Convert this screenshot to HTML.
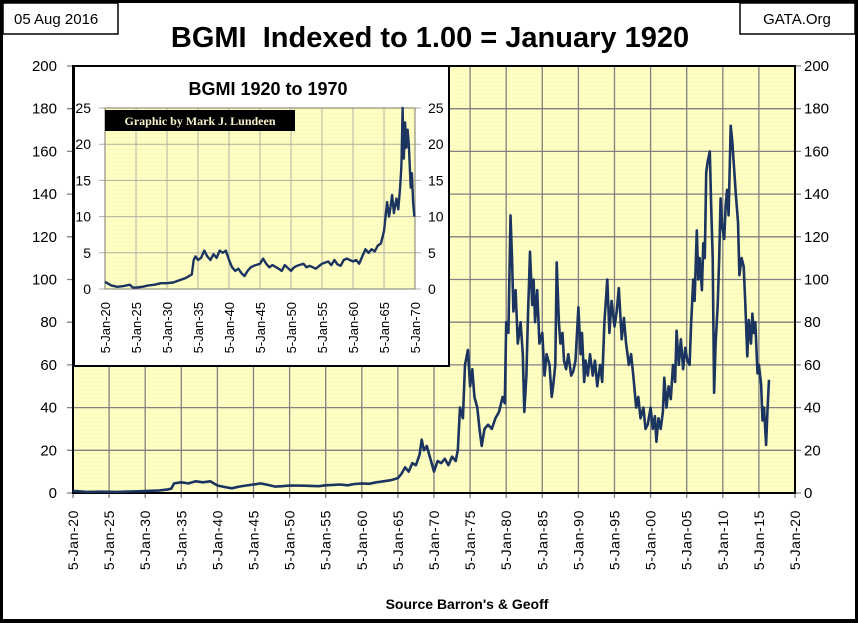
<!DOCTYPE html>
<html><head><meta charset="utf-8"><style>
html,body{margin:0;padding:0;background:#fff;}
svg{display:block;font-family:"Liberation Sans",sans-serif;}
</style></head><body>
<svg id="chart" width="858" height="623" viewBox="0 0 858 623">
<defs>
<pattern id="dots" width="4" height="4" patternUnits="userSpaceOnUse"><rect width="4" height="4" fill="#ffffc4"/><rect x="1" y="1" width="1" height="1" fill="#f0eca8"/></pattern>
</defs>
<rect x="1.5" y="1.5" width="855" height="619" fill="#fff" stroke="#000" stroke-width="3"/>
<rect x="0" y="619" width="858" height="4" fill="#000"/>
<rect x="3" y="3" width="115" height="31" fill="#fff" stroke="#000" stroke-width="1.5"/>
<text x="14" y="24" font-size="15">05 Aug 2016</text>
<rect x="740" y="3" width="115" height="31" fill="#fff" stroke="#000" stroke-width="1.5"/>
<text x="797" y="24" font-size="15" text-anchor="middle">GATA.Org</text>
<text x="430" y="47" font-size="29" font-weight="bold" text-anchor="middle" xml:space="preserve">BGMI  Indexed to 1.00 = January 1920</text>
<text x="467" y="609" font-size="14" font-weight="bold" text-anchor="middle">Source Barron's &amp; Geoff</text>
<g id="main"></g>
<g id="inset"></g>
</svg>
<script>
// Main chart data (each line of years pairs with the same line of values)
const mainYears=[
1920,1922,1924,1926,1928,1930,1932,1933,1933.6,1934,
1935,1936,1937,1938,1939,1940,1941,1942,1943,1944,
1945,1946,1947,1948,1949,1950,1952,1954,1955,1956,
1957,1958,1959,1960,1961,1962,1963,1964,1965,1965.5,
1966,1966.5,1967,1967.5,1968,1968.3,1968.6,1969,1969.5,1970,
1970.5,1971,1971.5,1972,1972.5,1973,1973.3,1973.6,1974,1974.3,
1974.7,1975,1975.3,1975.6,1976,1976.3,1976.6,1977,1977.5,1978,
1978.5,1979,1979.5,1979.8,1980,1980.3,1980.6,1980.8,1981,1981.3,
1981.6,1982,1982.3,1982.5,1982.8,1983,1983.3,1983.6,1983.8,1984,
1984.3,1984.6,1985,1985.3,1985.6,1986,1986.3,1986.5,1986.8,1987,
1987.3,1987.5,1987.8,1988,1988.3,1988.6,1989,1989.3,1989.6,1990,
1990.3,1990.5,1990.8,1991,1991.3,1991.6,1992,1992.3,1992.6,1993,
1993.3,1993.6,1994,1994.3,1994.6,1995,1995.3,1995.6,1996,1996.3,
1996.6,1997,1997.3,1997.6,1998,1998.3,1998.6,1999,1999.3,1999.6,
2000,2000.3,2000.6,2000.8,2001.1,2001.4,2001.7,2001.9,2002.2,2002.5,
2002.8,2003.1,2003.4,2003.6,2003.9,2004.2,2004.5,2004.8,2005.1,2005.4,
2005.6,2005.9,2006.1,2006.4,2006.6,2006.8,2007.1,2007.3,2007.5,2007.7,
2007.9,2008.2,2008.4,2008.6,2008.8,2009.0,2009.3,2009.5,2009.7,2009.9,
2010.2,2010.4,2010.6,2010.8,2011.1,2011.3,2011.6,2011.8,2012.1,2012.3,
2012.6,2012.9,2013.1,2013.4,2013.6,2013.9,2014.1,2014.3,2014.5,2014.8,
2015.0,2015.3,2015.5,2015.7,2016.0,2016.2,2016.4];
const mainValues=[
1,0.5,0.6,0.5,0.7,0.9,1.2,1.6,2,4.5,
5,4.5,5.5,5,5.5,3.5,2.8,2.2,3,3.5,
4,4.5,3.8,3,3.2,3.5,3.4,3.2,3.6,3.8,
4,3.6,4.2,4.5,4.3,5,5.5,6,7,9,
12,10,14,13,18,25,20,22,16,10,
15,14,16,13,17,15,20,40,35,60,
67,50,58,45,40,30,22,30,32,30,
35,38,45,42,80,75,130,110,85,95,
70,80,65,38,55,82,113,88,100,80,
95,70,75,55,65,60,45,50,60,108,
80,70,75,62,58,65,55,57,62,87,
65,75,52,62,55,65,55,62,50,60,
52,80,100,75,90,78,85,96,72,82,
70,60,65,55,40,45,35,40,30,32,
40,30,36,24,35,30,38,54,40,50,
44,60,52,76,60,72,58,68,62,60,
78,100,90,123,100,110,95,117,110,150,
155,160,134,110,47,70,88,110,138,125,
119,135,142,130,172,165,150,140,127,102,
110,106,90,64,81,70,84,75,80,56,
60,51,34,40,22.5,40,53];
const mainYTicks=[0,20,40,60,80,100,120,140,160,180,200];
const mainXTicks=[1920,1925,1930,1935,1940,1945,1950,1955,1960,1965,1970,1975,1980,1985,1990,1995,2000,2005,2010,2015,2020];
// Inset data
const insetYears=[1920,1921,1922,1923,1924,1924.5,1925,1926,1927,1928,1929,1930,1931,1932,1933,1934,1934.3,1934.6,1935,1935.5,1936,1936.5,1937,1937.5,1938,1938.5,1939,1939.5,1940,1940.5,1941,1941.5,1942,1942.5,1943,1943.5,1944,1945,1945.5,1946,1946.5,1947,1948,1948.5,1949,1950,1950.5,1951,1952,1952.5,1953,1954,1955,1956,1956.5,1957,1957.5,1958,1958.5,1959,1960,1960.5,1961,1961.5,1962,1962.5,1963,1963.5,1964,1964.5,1965,1965.5,1965.8,1966,1966.3,1966.6,1967,1967.3,1967.6,1967.8,1968,1968.2,1968.4,1968.6,1968.8,1969,1969.3,1969.5,1969.7,1969.9];
const insetValues=[1,0.5,0.3,0.4,0.6,0.2,0.2,0.3,0.5,0.6,0.8,0.8,0.9,1.2,1.5,2,4,4.5,4,4.3,5.3,4.5,4,4.8,4.3,5.3,5,5.3,4,3,2.5,2.8,2.2,1.8,2.5,3,3.2,3.5,4.2,3.5,3,3.3,2.8,2.5,3.3,2.5,3,3.2,3.5,3,3.2,2.8,3.5,3.8,3.3,4,3.4,3.2,4,4.2,3.8,4,3.5,4.5,5.5,5,5.5,5.2,6,6.3,8,12,10,11,13,10.5,12.5,11,14,17,25,18,23,19.5,22,20,14,16,12,10];
const insetYTicks=[0,5,10,15,20,25];
const insetXTicks=[1920,1925,1930,1935,1940,1945,1950,1955,1960,1965,1970];

const NS='http://www.w3.org/2000/svg';
function mk(parent,tag,attrs){const e=document.createElementNS(NS,tag);for(const k in attrs)e.setAttribute(k,attrs[k]);parent.appendChild(e);return e;}
function tickLabel(y){const yy=((y%100)+100)%100;return '5-Jan-'+String(yy).padStart(2,'0');}

const M={l:73,r:795,t:66,b:493,x0:1920,x1:2020,y0:0,y1:200};
const mx=v=>M.l+(v-M.x0)/(M.x1-M.x0)*(M.r-M.l);
const my=v=>M.b-(v-M.y0)/(M.y1-M.y0)*(M.b-M.t);
const g=document.getElementById('main');
const pa=mk(g,'rect',{x:M.l,y:M.t,width:M.r-M.l,height:M.b-M.t,fill:'url(#dots)'});


mainYTicks.forEach(v=>{
  const ln=mk(g,'line',{x1:M.l-6,x2:M.r+6,y1:my(v),y2:my(v),stroke:'#808080','stroke-width':1.3});
  
  
  const t1=mk(g,'text',{x:57,y:my(v)+5,'font-size':15,'text-anchor':'end'});t1.textContent=v;
  
  
  const t2=mk(g,'text',{x:804,y:my(v)+5,'font-size':15});t2.textContent=v;
  
  
});
mainXTicks.forEach(v=>{
  const ln=mk(g,'line',{x1:mx(v),x2:mx(v),y1:M.t,y2:M.b+5,stroke:'#808080','stroke-width':1.3});
  
  
  const t=mk(g,'text',{x:0,y:0,'font-size':14,'text-anchor':'end','letter-spacing':'0.6',transform:`translate(${mx(v)+5},510) rotate(-90)`});t.textContent=tickLabel(v);
  
  
});
const fr=mk(g,'rect',{x:M.l,y:M.t,width:M.r-M.l,height:M.b-M.t,fill:'none',stroke:'#000','stroke-width':2});


const mp=mk(g,'polyline',{points:mainYears.map((y,i)=>mx(y).toFixed(1)+','+my(mainValues[i]).toFixed(1)).join(' '),fill:'none',stroke:'#1b3560','stroke-width':2.6,'stroke-linejoin':'round'});



const I={l:105,r:415,t:108,b:289,x0:1920,x1:1970,y0:0,y1:25};
const ix=v=>I.l+(v-I.x0)/(I.x1-I.x0)*(I.r-I.l);
const iy=v=>I.b-(v-I.y0)/(I.y1-I.y0)*(I.b-I.t);
const h=document.getElementById('inset');
const ib=mk(h,'rect',{x:74,y:66,width:375,height:300,fill:'#fff',stroke:'#000','stroke-width':2});


const ip=mk(h,'rect',{x:I.l,y:I.t,width:I.r-I.l,height:I.b-I.t,fill:'url(#dots)'});


const it=mk(h,'text',{x:268,y:95,'font-size':18,'font-weight':'bold','text-anchor':'middle','xml:space':'preserve'});it.textContent='BGMI  1920 to 1970';


insetYTicks.forEach(v=>{
  const ln=mk(h,'line',{x1:I.l-6,x2:I.r+6,y1:iy(v),y2:iy(v),stroke:'#b0b0a0','stroke-width':1});
  
  
  const t1=mk(h,'text',{x:91,y:iy(v)+5,'font-size':14,'text-anchor':'end'});t1.textContent=v;
  
  
  const t2=mk(h,'text',{x:428,y:iy(v)+5,'font-size':14});t2.textContent=v;
  
  
});
insetXTicks.forEach(v=>{
  const ln=mk(h,'line',{x1:ix(v),x2:ix(v),y1:I.t,y2:I.b,stroke:'#b0b0a0','stroke-width':1});
  
  
  const t=mk(h,'text',{x:0,y:0,'font-size':13,'text-anchor':'end',transform:`translate(${ix(v)+5},302) rotate(-90)`});t.textContent=tickLabel(v);
  
  
});
const ifr=mk(h,'rect',{x:I.l,y:I.t,width:I.r-I.l,height:I.b-I.t,fill:'none',stroke:'#909080','stroke-width':1.2});


const lb=mk(h,'rect',{x:105,y:110,width:190,height:21,fill:'#000'});


const lt=mk(h,'text',{x:200,y:125,'font-size':12,'font-weight':'bold','text-anchor':'middle',fill:'#f5f0c8','font-family':'Liberation Serif, serif'});lt.textContent='Graphic by Mark J. Lundeen';


const il=mk(h,'polyline',{points:insetYears.map((y,i)=>ix(y).toFixed(1)+','+iy(insetValues[i]).toFixed(1)).join(' '),fill:'none',stroke:'#1b3560','stroke-width':2.4,'stroke-linejoin':'round'});


</script>
</body></html>
